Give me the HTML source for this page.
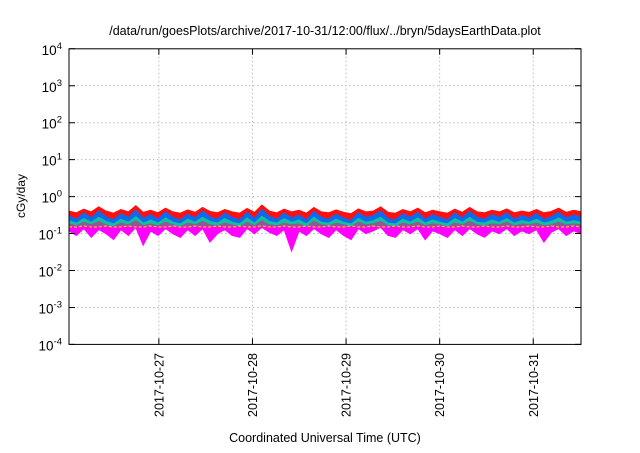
<!DOCTYPE html>
<html><head><meta charset="utf-8"><style>
body{margin:0;background:#fff;width:640px;height:448px;overflow:hidden}
svg text{font-family:"Liberation Sans",sans-serif;fill:#000}
</style></head><body>
<svg id="chart" width="640" height="448" viewBox="0 0 640 448">
<text x="325" y="35" font-size="12.5" text-anchor="middle">/data/run/goesPlots/archive/2017-10-31/12:00/flux/../bryn/5daysEarthData.plot</text>
<g id="grid"></g>
<g id="series"></g>
<rect x="69" y="48.8" width="512" height="295.6" fill="none" stroke="#000" stroke-width="1"/>
<g id="axes"></g>
<text transform="translate(25,196) rotate(-90)" font-size="12" text-anchor="middle">cGy/day</text>
<text x="325" y="442" font-size="12.5" text-anchor="middle">Coordinated Universal Time (UTC)</text>
</svg>
<script>
const xDays=[1,2,3,4,5];
const xTickLabels=["2017-10-27","2017-10-28","2017-10-29","2017-10-30","2017-10-31"];
const yExps=[-4,-3,-2,-1,0,1,2,3,4];
const timeStart=0.04, timeEnd=5.51;
const red=[0.40,0.36,0.45,0.38,0.52,0.40,0.35,0.44,0.38,0.56,0.37,0.42,0.36,0.48,0.38,0.35,0.43,0.37,0.50,0.39,0.36,0.44,0.38,0.35,0.47,0.37,0.58,0.40,0.36,0.45,0.38,0.42,0.35,0.50,0.38,0.36,0.43,0.37,0.34,0.46,0.38,0.40,0.52,0.37,0.35,0.44,0.38,0.48,0.36,0.42,0.38,0.35,0.45,0.37,0.50,0.38,0.36,0.42,0.38,0.46,0.36,0.40,0.37,0.44,0.36,0.39,0.48,0.37,0.42,0.38];
const blue=[0.30,0.24,0.36,0.26,0.40,0.28,0.23,0.34,0.27,0.42,0.25,0.32,0.24,0.38,0.27,0.23,0.33,0.26,0.40,0.28,0.24,0.35,0.27,0.23,0.37,0.25,0.44,0.29,0.24,0.35,0.26,0.31,0.23,0.39,0.27,0.24,0.33,0.26,0.22,0.36,0.27,0.30,0.40,0.25,0.23,0.34,0.27,0.37,0.24,0.32,0.27,0.23,0.35,0.26,0.39,0.27,0.24,0.32,0.27,0.36,0.24,0.30,0.26,0.34,0.24,0.28,0.37,0.26,0.31,0.27];
const cyan=[0.22,0.19,0.25,0.20,0.27,0.21,0.18,0.24,0.20,0.28,0.19,0.23,0.19,0.26,0.20,0.18,0.24,0.20,0.27,0.21,0.19,0.25,0.20,0.18,0.26,0.19,0.29,0.21,0.19,0.25,0.20,0.23,0.18,0.27,0.20,0.19,0.24,0.20,0.18,0.25,0.20,0.22,0.27,0.19,0.18,0.24,0.20,0.26,0.19,0.23,0.20,0.18,0.25,0.20,0.27,0.20,0.19,0.23,0.20,0.25,0.19,0.22,0.20,0.24,0.19,0.21,0.26,0.20,0.22,0.20];
const grey=[0.18,0.16,0.20,0.17,0.21,0.17,0.15,0.19,0.17,0.22,0.16,0.18,0.16,0.20,0.17,0.15,0.19,0.17,0.21,0.17,0.16,0.19,0.17,0.15,0.20,0.16,0.22,0.17,0.16,0.19,0.17,0.18,0.15,0.21,0.17,0.16,0.19,0.17,0.15,0.20,0.17,0.18,0.21,0.16,0.15,0.19,0.17,0.20,0.16,0.18,0.17,0.15,0.19,0.17,0.21,0.17,0.16,0.18,0.17,0.20,0.16,0.18,0.17,0.19,0.16,0.17,0.20,0.17,0.18,0.17];
const yellow=[0.15,0.15,0.16,0.15,0.15,0.16,0.15,0.15,0.16,0.15,0.15,0.16,0.15,0.15,0.16,0.15,0.15,0.16,0.15,0.15,0.16,0.15,0.15,0.16,0.15,0.15,0.16,0.15,0.15,0.16,0.15,0.15,0.16,0.15,0.15,0.16,0.15,0.15,0.16,0.15,0.15,0.16,0.15,0.15,0.16,0.15,0.15,0.16,0.15,0.15,0.16,0.15,0.15,0.16,0.15,0.15,0.16,0.15,0.15,0.16,0.15,0.15,0.16,0.15,0.15,0.16,0.15,0.15,0.16,0.15];
const magenta=[0.12,0.09,0.14,0.08,0.13,0.10,0.07,0.13,0.09,0.15,0.05,0.12,0.09,0.14,0.10,0.08,0.13,0.09,0.14,0.06,0.10,0.13,0.09,0.08,0.14,0.10,0.15,0.11,0.09,0.13,0.035,0.12,0.09,0.14,0.10,0.08,0.13,0.09,0.07,0.14,0.10,0.12,0.15,0.09,0.08,0.13,0.10,0.14,0.07,0.12,0.10,0.08,0.13,0.09,0.14,0.10,0.08,0.12,0.10,0.14,0.09,0.12,0.10,0.13,0.06,0.11,0.14,0.09,0.12,0.10];
// [values, colour, name, fill-base value]
const seriesList=[[red,"#ff1010","red-series",0.2],[blue,"#0a6af0","blue-series",0.18],[cyan,"#10c0a0","cyan-series",0.16],[grey,"#8f5a8f","grey-series",0.14],[magenta,"#ff00ff","magenta-series",0.16],[yellow,"#e0d000","yellow-series",null]];
const L=69,R=581,T=48.8,B=344.4;
function xs(d){return L+(d-timeStart)/(timeEnd-timeStart)*(R-L);}
function ys(v){return B-(Math.log10(v)+4)/8*(B-T);}
const NS="http://www.w3.org/2000/svg";
const grid=document.getElementById('grid'),axes=document.getElementById('axes'),ser=document.getElementById('series');
yExps.forEach(e=>{
  const y=ys(Math.pow(10,e));
  if(e>-4&&e<4){const g=document.createElementNS(NS,'line');
  
  
  g.setAttribute('x1',L);g.setAttribute('x2',R);g.setAttribute('y1',y);g.setAttribute('y2',y);
  g.setAttribute('stroke','#bbb');g.setAttribute('stroke-dasharray','1.5,2.5');grid.appendChild(g);}
  const tk=document.createElementNS(NS,'path');
  
  
  tk.setAttribute('d',`M${L} ${y}h6M${R} ${y}h-6`);tk.setAttribute('stroke','#000');axes.appendChild(tk);
  const t=document.createElementNS(NS,'text');
  
  
  t.setAttribute('x',62);t.setAttribute('y',y+6);t.setAttribute('text-anchor','end');t.setAttribute('font-size','13.5');
  t.innerHTML=`10<tspan dy="-6" font-size="9.5">${e}</tspan>`;axes.appendChild(t);
});
xDays.forEach((d,i)=>{
  const x=xs(d);
  const g=document.createElementNS(NS,'line');
  
  
  g.setAttribute('x1',x);g.setAttribute('x2',x);g.setAttribute('y1',T);g.setAttribute('y2',B);
  g.setAttribute('stroke','#bbb');g.setAttribute('stroke-dasharray','1.5,2.5');grid.appendChild(g);
  const tk=document.createElementNS(NS,'path');
  
  
  tk.setAttribute('d',`M${x} ${B}v-6M${x} ${T}v6`);tk.setAttribute('stroke','#000');axes.appendChild(tk);
  const t=document.createElementNS(NS,'text');
  
  
  t.setAttribute('transform',`translate(${x+4.5},353) rotate(-90)`);t.setAttribute('text-anchor','end');t.setAttribute('font-size','12.5');
  t.textContent=xTickLabels[i];axes.appendChild(t);
});
seriesList.forEach(([vals,col,name,base])=>{
  const n=vals.length;
  const pts=vals.map((v,i)=>[xs(timeStart+i/(n-1)*(timeEnd-timeStart)),ys(v)]);
  if(base!==null){
    const f=document.createElementNS(NS,'polygon');
    
    
    const yb=ys(base);
    const ptsStr=pts.map(p=>p[0].toFixed(1)+','+p[1].toFixed(1)).join(' ');
    f.setAttribute('points',`${L},${yb} `+ptsStr+` ${R},${yb}`);
    f.setAttribute('fill',col);f.setAttribute('stroke','none');
    ser.appendChild(f);
  }
  const p=document.createElementNS(NS,'polyline');
  
  
  p.setAttribute('points',pts.map(p=>p[0].toFixed(1)+','+p[1].toFixed(1)).join(' '));
  p.setAttribute('fill','none');p.setAttribute('stroke',col);p.setAttribute('stroke-width',name==='yellow-series'?1.2:1.4);
  if(name==='yellow-series')p.setAttribute('stroke-dasharray','3,2');
  ser.appendChild(p);
});
</script>
</body></html>
